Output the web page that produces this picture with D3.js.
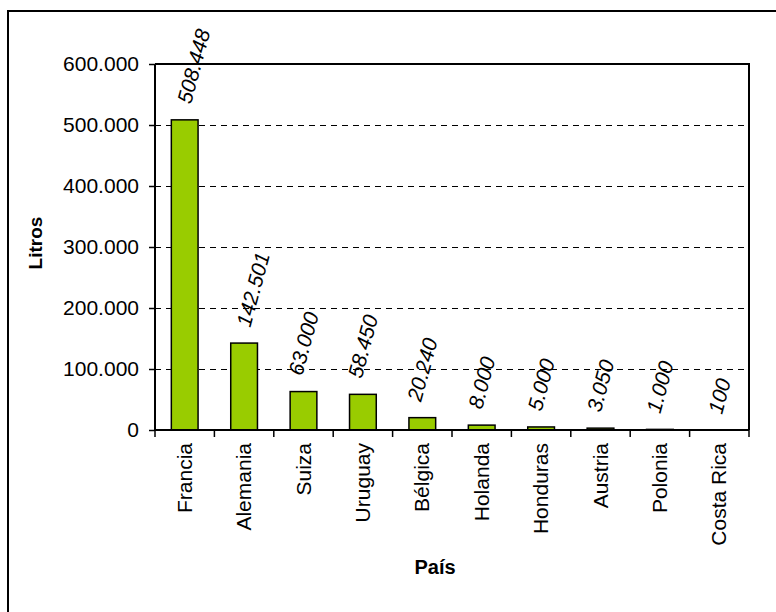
<!DOCTYPE html>
<html><head><meta charset="utf-8">
<script src="https://cdn.jsdelivr.net/npm/d3@7"></script>
<style>body{margin:0;background:#fff}svg{display:block}text{font-family:"Liberation Sans",Arial,sans-serif}</style>
</head><body>
<script>
const categories = ["Francia","Alemania","Suiza","Uruguay","Bélgica","Holanda","Honduras","Austria","Polonia","Costa Rica"];
const values = [508448,142501,63000,58450,20240,8000,5000,3050,1000,100];
const valueLabels = ["508.448","142.501","63.000","58.450","20.240","8.000","5.000","3.050","1.000","100"];
const yTicks = [0,100000,200000,300000,400000,500000,600000];
const yTickLabels = ["0","100.000","200.000","300.000","400.000","500.000","600.000"];

const W=776,H=612;
const m={left:155,top:64,right:749,bottom:430};
const FS=21;
const svg=d3.select("body").append("svg").attr("width",W).attr("height",H);
svg.append("rect").attr("x",8).attr("y",11).attr("width",W).attr("height",H).attr("fill","#fff").attr("stroke","#000").attr("stroke-width",2);

const x=d3.scaleBand().domain(categories).range([m.left,m.right]).paddingInner(0).paddingOuter(0);
const y=d3.scaleLinear().domain([0,600000]).range([m.bottom,m.top]);

// gridlines
svg.append("g").selectAll("line").data(yTicks.filter(t=>t>0&&t<600000)).join("line")
 .attr("x1",m.left).attr("x2",m.right).attr("y1",d=>Math.round(y(d))+0.5).attr("y2",d=>Math.round(y(d))+0.5)
 .attr("stroke","#000").attr("stroke-width",1).attr("stroke-dasharray","6,5");

// plot border top/right
svg.append("path").attr("d",`M${m.left},${m.top}H${m.right}V${m.bottom}`).attr("fill","none").attr("stroke","#000").attr("stroke-width",2);

// bars
const bw=x.bandwidth()*0.45;
svg.append("g").selectAll("rect").data(values).join("rect")
 .attr("x",(d,i)=>x(categories[i])+x.bandwidth()/2-bw/2).attr("width",bw)
 .attr("y",d=>y(d)).attr("height",d=>y(0)-y(d))
 .attr("fill","#99CC00").attr("stroke","#000").attr("stroke-width",1.5);

// y axis
const ya=svg.append("g").attr("transform",`translate(${m.left},0)`)
 .call(d3.axisLeft(y).tickValues(yTicks).tickFormat((d,i)=>yTickLabels[i]).tickSize(6).tickPadding(10));
ya.select(".domain").attr("stroke-width",2).attr("d",`M0,${m.top}V${m.bottom}`);
ya.selectAll("text").attr("font-size",FS).attr("fill","#000").attr("font-family","Liberation Sans, Arial, sans-serif");
ya.selectAll("line").attr("stroke-width",1.5);

// x axis
const xa=svg.append("g").attr("transform",`translate(0,${m.bottom})`);
xa.append("line").attr("x1",m.left).attr("x2",m.right).attr("stroke","#000").attr("stroke-width",2);
const bounds=categories.map(c=>x(c)).concat([m.right]);
xa.selectAll("line.t").data(bounds).join("line").attr("class","t")
 .attr("x1",d=>d).attr("x2",d=>d).attr("y1",0).attr("y2",7).attr("stroke","#000").attr("stroke-width",1.5);
xa.selectAll("text").data(categories).join("text")
 .attr("transform",d=>`translate(${x(d)+x.bandwidth()/2+7},13) rotate(-90)`)
 .attr("text-anchor","end").attr("font-size",FS).text(d=>d);

// value labels (rotated, box centred above bar)
const ang=75, rad=ang*Math.PI/180, capH=FS*0.72, gap=15;
const vl=svg.append("g").selectAll("text").data(values).join("text")
 .attr("font-size",FS).attr("font-style","italic").attr("text-anchor","middle")
 .attr("dy","0.35em").text((d,i)=>valueLabels[i]);
vl.each(function(d,i){
  const L=this.getComputedTextLength();
  const V=L*Math.sin(rad)+capH*Math.cos(rad);
  const shift=Math.max(0,L-66)*0.9;
  const cx=x(categories[i])+x.bandwidth()/2+shift;
  const cy=y(d)-gap-V/2;
  d3.select(this).attr("transform",`translate(${cx},${cy}) rotate(${-ang})`);
});

// axis titles
svg.append("text").attr("transform",`translate(42,243) rotate(-90)`).attr("text-anchor","middle")
 .attr("font-size",19).attr("font-weight","bold").text("Litros");
svg.append("text").attr("x",435).attr("y",574).attr("text-anchor","middle")
 .attr("font-size",20).attr("font-weight","bold").text("País");
</script>
</body></html>
